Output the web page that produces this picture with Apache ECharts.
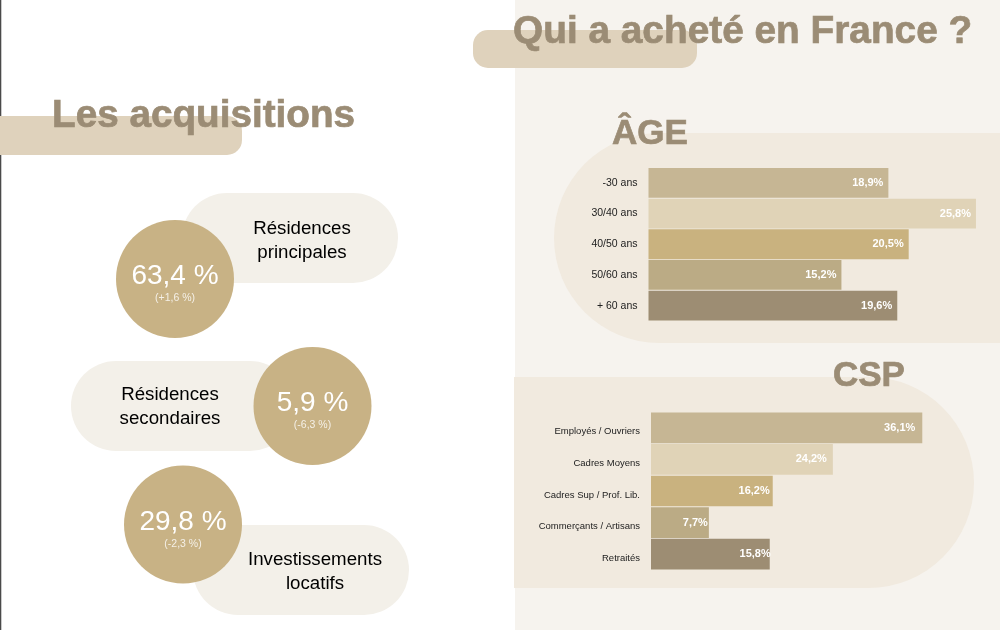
<!DOCTYPE html>
<html>
<head>
<meta charset="utf-8">
<title>Qui a acheté en France ?</title>
<script src="https://cdn.jsdelivr.net/npm/echarts@6/dist/echarts.min.js"></script>
<style>
  html, body { margin: 0; padding: 0; background: #fff; }
  #chart { width: 1000px; height: 630px; }
</style>
</head>
<body>
<div id="chart"></div>
<script>
// bar charts
const ageCategories = ["-30 ans", "30/40 ans", "40/50 ans", "50/60 ans", "+ 60 ans"];
const ageValues = [18.9, 25.8, 20.5, 15.2, 19.6];
const cspCategories = ["Employés / Ouvriers", "Cadres Moyens", "Cadres Sup / Prof. Lib.", "Commerçants / Artisans", "Retraités"];
const cspValues = [36.1, 24.2, 16.2, 7.7, 15.8];

// left column figures
const tileNames = ["Résidences\nprincipales", "Résidences\nsecondaires", "Investissements\nlocatifs"];
const tileShares = ["63,4 %", "5,9 %", "29,8 %"];
const tileChanges = ["(+1,6 %)", "(-6,3 %)", "(-2,3 %)"];

// styling, same order of colours in both charts
const barColors = ["#c6b694", "#e0d3b7", "#c9b27f", "#bbab85", "#9d8d73"];
const titleColor = "#9b8c75";
const sansFont = '"Liberation Sans", Arial, sans-serif';

// where each tile sits: circle centre, pill box, label centre
const tileLayout = [
  { cx: 175, cy: 279, pill: [182, 193, 216, 90], labelX: 302, labelY: 240.5 },
  { cx: 312.5, cy: 406, pill: [71, 361, 224, 90], labelX: 170, labelY: 407 },
  { cx: 183, cy: 524.5, pill: [193, 525, 216, 90], labelX: 315, labelY: 572 }
];
// the value labels don't sit the same distance from the bar ends in the CSP chart
const cspLabelGaps = [7, 6, 3, 1, -1];

const formatPct = (value) => value.toFixed(1).replace(".", ",") + "%";

const rect = (x, y, w, h, r, fill) => ({
  type: "rect",
  shape: { x, y, width: w, height: h, r },
  style: { fill }
});

const text = (x, y, str, fontSize, fill, fontWeight, align) => ({
  type: "text",
  x,
  y,
  style: {
    text: str,
    fontFamily: sansFont,
    fontSize,
    fontWeight: fontWeight || "normal",
    fill,
    align: align || "center",
    verticalAlign: "middle",
    lineHeight: 24
  }
});

// headings look heavier than plain bold in the reference
const heading = (x, y, str, fontSize) => {
  const el = text(x, y, str, fontSize, titleColor, "bold", "left");
  el.style.stroke = titleColor;
  el.style.lineWidth = 0.7;
  return el;
};

const graphics = [
  rect(515, 0, 485, 630, 0, "#f6f3ee"),
  rect(0, 0, 1.3, 630, 0, "#4a4a4a"),
  rect(0, 116, 242, 39, [0, 15, 15, 0], "#dfd2bc"),
  rect(473, 30, 224, 38, 15, "#dfd2bc"),
  rect(554, 133, 446, 210, [105, 0, 0, 105], "#f1eadf"),
  rect(514, 377, 460, 211, [0, 105.5, 105.5, 0], "#f1eadf"),
  heading(52, 116, "Les acquisitions", 38.7),
  heading(513, 32, "Qui a acheté en France ?", 38.8),
  heading(612, 134, "ÂGE", 35),
  heading(833, 376, "CSP", 35)
];

tileNames.forEach((name, i) => {
  const t = tileLayout[i];
  graphics.push(rect(t.pill[0], t.pill[1], t.pill[2], t.pill[3], 45, "#f3f0e9"));
  graphics.push({
    type: "circle",
    shape: { cx: t.cx, cy: t.cy, r: 59 },
    style: { fill: "#c8b285" }
  });
  graphics.push(text(t.cx, t.cy - 2.5, tileShares[i], 28, "#ffffff"));
  graphics.push(text(t.cx, t.cy + 19.5, tileChanges[i], 10.5, "rgba(255,255,255,0.8)"));
  graphics.push(text(t.labelX, t.labelY, name, 18.7, "#000000"));
});

const option = {
  animation: false,
  backgroundColor: "#ffffff",
  graphic: { elements: graphics },
  grid: [
    { left: 648.5, top: 167.5, width: 330, height: 153.5 },
    { left: 651, top: 412, width: 300.6, height: 158 }
  ],
  xAxis: [
    { type: "value", gridIndex: 0, min: 0, max: 26, show: false },
    { type: "value", gridIndex: 1, min: 0, max: 40, show: false }
  ],
  yAxis: [
    {
      type: "category",
      gridIndex: 0,
      inverse: true,
      data: ageCategories,
      axisLine: { show: false },
      axisTick: { show: false },
      axisLabel: { margin: 11, fontFamily: '"Liberation Sans Narrow", ' + sansFont, fontSize: 10.5, color: "#222222" }
    },
    {
      type: "category",
      gridIndex: 1,
      inverse: true,
      data: cspCategories,
      axisLine: { show: false },
      axisTick: { show: false },
      // labels sit a little below the bar centres
      axisLabel: { margin: 11, fontFamily: sansFont, fontSize: 9.5, color: "#222222", verticalAlign: "top", lineHeight: 8 }
    }
  ],
  series: [
    {
      type: "bar",
      xAxisIndex: 0,
      yAxisIndex: 0,
      barCategoryGap: "3%",
      data: ageValues.map((value, i) => ({ value, itemStyle: { color: barColors[i] } })),
      label: {
        show: true,
        position: "insideRight",
        distance: 5,
        formatter: (p) => formatPct(p.value),
        fontFamily: sansFont,
        fontSize: 11,
        fontWeight: "bold",
        color: "#ffffff"
      }
    },
    {
      type: "bar",
      xAxisIndex: 1,
      yAxisIndex: 1,
      barCategoryGap: "3%",
      data: cspValues.map((value, i) => ({
        value,
        itemStyle: { color: barColors[i] },
        label: { distance: cspLabelGaps[i] }
      })),
      label: {
        show: true,
        position: "insideRight",
        formatter: (p) => formatPct(p.value),
        fontFamily: sansFont,
        fontSize: 11,
        fontWeight: "bold",
        color: "#ffffff"
      }
    }
  ]
};

const myChart = echarts.init(document.getElementById("chart"));
myChart.setOption(option);
</script>
</body>
</html>
